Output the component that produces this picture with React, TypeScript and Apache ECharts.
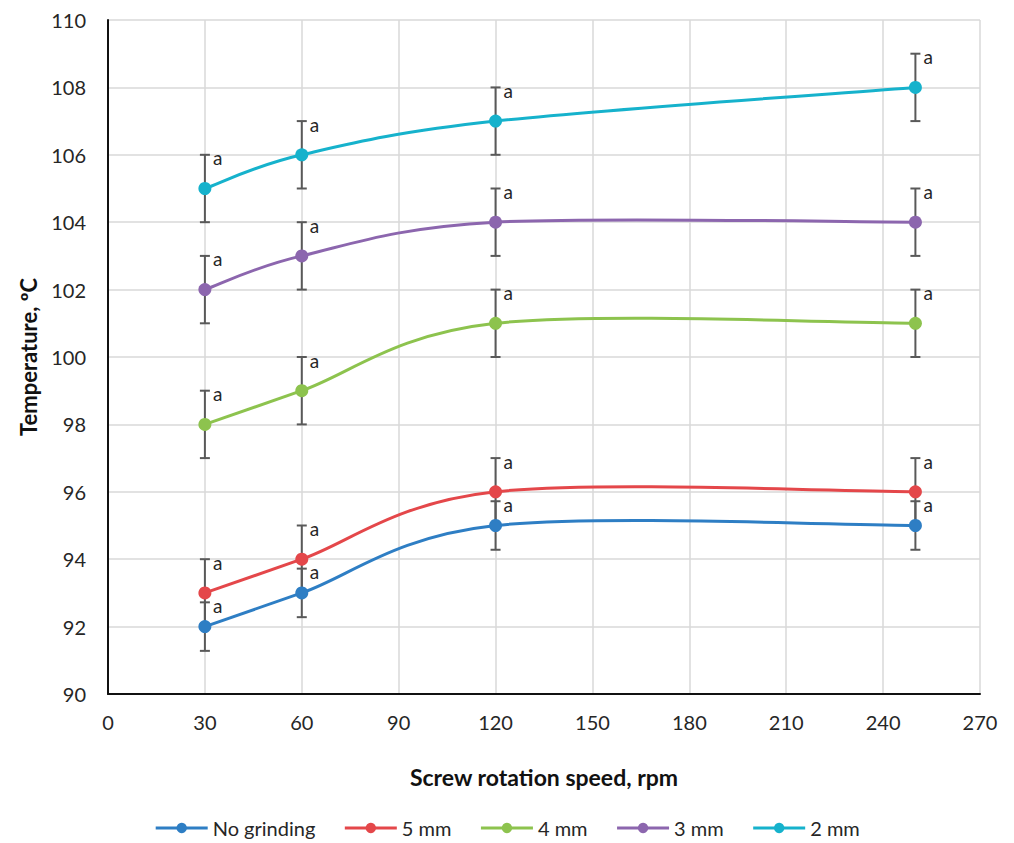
import React, { useEffect, useRef } from "react";
import * as echarts from "echarts";

const speeds = [30, 60, 120, 250];
const seriesNames = ["No grinding", "5 mm", "4 mm", "3 mm", "2 mm"];
const noGrinding = [92, 93, 95, 95];
const mm5 = [93, 94, 96, 96];
const mm4 = [98, 99, 101, 101];
const mm3 = [102, 103, 104, 104];
const mm2 = [105, 106, 107, 108];
const errNoGrinding = [0.72, 0.72, 0.72, 0.72];
const errMm5 = [1, 1, 1, 1];
const errMm4 = [1, 1, 1, 1];
const errMm3 = [1, 1, 1, 1];
const errMm2 = [1, 1, 1, 1];
const letters = ["a", "a", "a", "a"];
const colors = ["#2E7EC4", "#E4474A", "#8DC34E", "#8C66AE", "#16B2CC"];

const values = [noGrinding, mm5, mm4, mm3, mm2];
const errors = [errNoGrinding, errMm5, errMm4, errMm3, errMm2];

const FONT = "Lato";
const TEXT = "#262626";

export default function App() {
  const ref = useRef<HTMLDivElement>(null);
  useEffect(() => {
    if (!ref.current) return;
    const chart = echarts.init(ref.current, null, { renderer: "svg" });
    const n = speeds.length;

    const pointSeries = seriesNames.map((name, i) => ({
      name,
      type: "line",
      data: speeds.map((x, j) => [x, values[i][j]]),
      symbol: "circle",
      symbolSize: 13,
      lineStyle: { color: colors[i], width: 3, opacity: 0 },
      itemStyle: { color: colors[i] },
      z: 4,
    }));

    const curveSeries = seriesNames.map((name, i) => ({
      name: name + " curve",
      type: "custom",
      z: 3,
      data: speeds.map((x, j) => [x, values[i][j], j]),
      encode: { x: 0, y: 1 },
      renderItem: (params: any, api: any) => {
        const j = api.value(2);
        if (j >= n - 1) return { type: "group", children: [] };
        const pts = speeds.map((x, k) => api.coord([x, values[i][k]]));
        const p0 = pts[Math.max(j - 1, 0)];
        const p1 = pts[j];
        const p2 = pts[j + 1];
        const p3 = pts[Math.min(j + 2, n - 1)];
        const k = 1 / 6;
        return {
          type: "bezierCurve",
          shape: {
            x1: p1[0],
            y1: p1[1],
            x2: p2[0],
            y2: p2[1],
            cpx1: p1[0] + (p2[0] - p0[0]) * k,
            cpy1: p1[1] + (p2[1] - p0[1]) * k,
            cpx2: p2[0] - (p3[0] - p1[0]) * k,
            cpy2: p2[1] - (p3[1] - p1[1]) * k,
          },
          style: { stroke: colors[i], lineWidth: 3, fill: null },
        };
      },
    }));

    const errSeries = seriesNames.map((name, i) => ({
      name: name + " error",
      type: "custom",
      z: 2,
      data: speeds.map((x, j) => [x, values[i][j], errors[i][j], j]),
      encode: { x: 0, y: 1 },
      renderItem: (params: any, api: any) => {
        const x = api.value(0);
        const y = api.value(1);
        const e = api.value(2);
        const idx = api.value(3);
        const top = api.coord([x, y + e]);
        const bot = api.coord([x, y - e]);
        const stroke = { stroke: "#595959", lineWidth: 2 };
        const cw = 5;
        return {
          type: "group",
          children: [
            { type: "line", shape: { x1: top[0], y1: top[1], x2: bot[0], y2: bot[1] }, style: stroke },
            { type: "line", shape: { x1: top[0] - cw, y1: top[1], x2: top[0] + cw, y2: top[1] }, style: stroke },
            { type: "line", shape: { x1: bot[0] - cw, y1: bot[1], x2: bot[0] + cw, y2: bot[1] }, style: stroke },
            {
              type: "text",
              z2: 10,
              style: {
                text: letters[idx],
                x: top[0] + 8,
                y: top[1] + 3,
                fill: TEXT,
                font: `19px ${FONT}`,
                textAlign: "left",
                textVerticalAlign: "middle",
              },
            },
          ],
        };
      },
    }));

    chart.setOption({
      animation: false,
      backgroundColor: "#fff",
      textStyle: { fontFamily: FONT },
      grid: { left: 108, right: 34, top: 20, bottom: 149 },
      legend: {
        data: seriesNames,
        bottom: 0,
        left: "center",
        itemWidth: 52,
        itemHeight: 13,
        itemGap: 28,
        lineStyle: { opacity: 1, width: 3 },
        textStyle: { fontSize: 20, color: TEXT, fontFamily: FONT },
      },
      xAxis: {
        type: "value",
        min: 0,
        max: 270,
        interval: 30,
        name: "Screw rotation speed, rpm",
        nameLocation: "middle",
        nameGap: 71,
        nameTextStyle: { fontSize: 23, fontWeight: "bold", color: "#111", fontFamily: FONT },
        axisLine: { show: true, lineStyle: { color: "#111", width: 2 } },
        axisTick: { show: false },
        axisLabel: { fontSize: 20, color: TEXT, margin: 18, fontFamily: FONT },
        splitLine: { show: true, lineStyle: { color: "#d9d9d9", width: 1.5 } },
      },
      yAxis: {
        type: "value",
        min: 90,
        max: 110,
        interval: 2,
        name: "Temperature, ºC",
        nameLocation: "middle",
        nameGap: 69,
        nameTextStyle: { fontSize: 22, fontWeight: "bold", color: "#111", fontFamily: FONT },
        axisLine: { show: true, lineStyle: { color: "#111", width: 2 } },
        axisTick: { show: false },
        axisLabel: { fontSize: 20, color: TEXT, margin: 22, fontFamily: FONT },
        splitLine: { show: true, lineStyle: { color: "#d9d9d9", width: 1.5 } },
      },
      series: [...errSeries, ...curveSeries, ...pointSeries],
    });
    return () => chart.dispose();
  }, []);
  return (
    <div
      ref={ref}
      style={{ position: "absolute", left: 0, top: 0, width: 1014, height: 843 }}
    />
  );
}
